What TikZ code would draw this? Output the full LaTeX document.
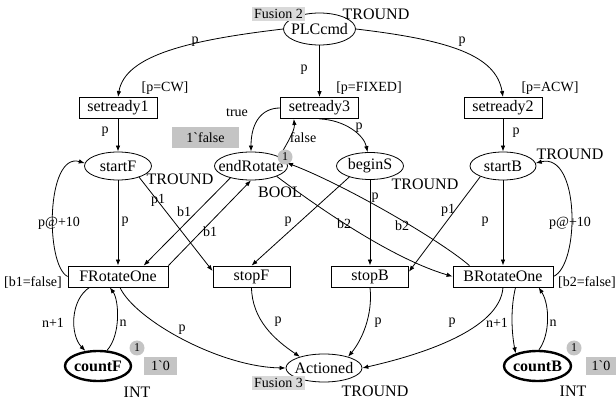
\documentclass[tikz,border=0pt]{standalone}
\usepackage{fontspec}
\setmainfont{Liberation Serif}
\usetikzlibrary{shapes.geometric,arrows.meta}
\definecolor{tokgray}{HTML}{C4C4C4}
\definecolor{fusgray}{HTML}{D9D9D9}
\newcommand{\zb}[1]{\makebox[0pt]{#1}}
\begin{document}
\begin{tikzpicture}[x=1pt,y=-1pt,
  place/.style={ellipse,draw,line width=0.8pt,inner sep=0pt,font=\fontsize{16}{18}\selectfont},
  trans/.style={rectangle,draw,line width=0.8pt,inner sep=0pt,minimum height=21pt,font=\fontsize{16}{18}\selectfont},
  lbl/.style={inner sep=0pt,font=\fontsize{14}{16}\selectfont},
  typ/.style={inner sep=0pt,font=\fontsize{16}{18}\selectfont},
  arc/.style={draw,line width=0.8pt,-{Latex[length=6pt,width=4.5pt]}},
  tok/.style={circle,fill=tokgray,inner sep=0pt,minimum size=15pt,font=\fontsize{12}{14}\selectfont},
  fusbox/.style={rectangle,fill=fusgray,inner sep=0pt,minimum width=53pt,minimum height=14pt,font=\fontsize{14}{16}\selectfont},
  initbox/.style={rectangle,fill=tokgray,inner sep=0pt,font=\fontsize{14}{16}\selectfont}]
\useasboundingbox (0,0) rectangle (616,403);
% places and transitions
\node[place,minimum width=72pt,minimum height=32pt] (PLC) at (319.5,29) {\zb{PLCcmd}};
\node[trans,minimum width=78pt] (sr1) at (118,108) {setready1};
\node[trans,minimum width=78pt] (sr3) at (319.5,108) {setready3};
\node[trans,minimum width=78pt] (sr2) at (503,108) {setready2};
\node[place,minimum width=67pt,minimum height=28pt] (startF) at (118,166) {\zb{startF}};
\node[place,minimum width=73pt,minimum height=28pt] (endR) at (251,166) {\zb{endRotate}};
\node[place,minimum width=67pt,minimum height=27pt] (beginS) at (370,166) {\zb{beginS}};
\node[place,minimum width=66pt,minimum height=28pt] (startB) at (503,166) {\zb{startB}};
\node[trans,minimum width=100pt] (FR) at (118,276.5) {FRotateOne};
\node[trans,minimum width=77pt] (stopF) at (251.5,276.5) {stopF};
\node[trans,minimum width=77pt] (stopB) at (370,276.5) {stopB};
\node[trans,minimum width=100pt] (BR) at (503,276.5) {BRotateOne};
\node[place,line width=2.4pt,minimum width=66pt,minimum height=30pt] (countF) at (98,366) {\zb{\bfseries countF}};
\node[place,line width=2.4pt,minimum width=67pt,minimum height=30pt] (countB) at (537.5,366) {\zb{\bfseries countB}};
\node[place,minimum width=76pt,minimum height=28pt] (Act) at (324,368) {\zb{Actioned}};
% arcs
\draw[arc] (PLC.west) .. controls (190,40) and (125,55) .. (sr1.north);
\draw[arc] (PLC.south) -- (sr3.north);
\draw[arc] (PLC.east) .. controls (449,40) and (496,55) .. (sr2.north);
\draw[arc] (sr1.south) -- (startF.north);
\draw[arc] (sr2.south) -- (startB.north);
\draw[arc] (sr3.west) .. controls (262,108) and (251,122) .. (endR.north);
\draw[arc] (endR.18) .. controls (288,142) and (295,130) .. (sr3.-157);
\draw[arc] (sr3.south) .. controls (345,120) and (364,135) .. (beginS.100);
\draw[arc] (startF.south) -- (FR.north);
\draw[arc] (startB.south) -- (BR.north);
\draw[arc] (beginS.south) -- (stopB.north);
\draw[arc] (startF.-28) -- (stopF.172);
\draw[arc] (endR.-150) -- (FR.23);
\draw[arc] (FR.north east) -- (endR.south);
\draw[arc] (beginS.-152) -- (stopF.north);
\draw[arc] (startB.-155) -- (stopB.7);
\draw[arc] (endR.-22) .. controls (315,205) and (390,258) .. (BR.west);
\draw[arc] (BR.162) .. controls (440,240) and (345,185) .. (endR.5);
\draw[arc] (FR.west) .. controls (45,265) and (46,152) .. (startF.175);
\draw[arc] (BR.east) .. controls (580,265) and (580,152) .. (startB.5);
\draw[arc] (FR.-159) .. controls (70,300) and (70,335) .. (countF.130);
\draw[arc] (countF.60) .. controls (121,335) and (119,300) .. (FR.-127);
\draw[arc] (FR.-80) .. controls (135,320) and (220,367) .. (Act.west);
\draw[arc] (stopF.south) .. controls (252,320) and (275,340) .. (Act.155);
\draw[arc] (stopB.south) .. controls (373,315) and (362,340) .. (Act.25);
\draw[arc] (BR.south) .. controls (500,330) and (420,355) .. (Act.east);
\draw[arc] (BR.-41) .. controls (510,310) and (512,335) .. (countB.150);
\draw[arc] (countB.85) .. controls (550,335) and (550,305) .. (BR.-17);
% fusion tags, markings, tokens
\node[fusbox] (fus2) at (278.5,14) {Fusion 2};
\node[fusbox] (fus3) at (278.5,383) {Fusion 3};
\node[initbox,minimum width=67pt,minimum height=21pt] (ini1) at (205.5,137.5) {1\textasciigrave false};
\node[initbox,minimum width=33pt,minimum height=18pt] (ini2) at (160.5,366) {1\textasciigrave 0};
\node[initbox,minimum width=31pt,minimum height=18pt] (ini3) at (601,366) {1\textasciigrave 0};
\node[tok] (tk1) at (285,157) {1};
\node[tok] (tk2) at (137,348) {1};
\node[tok] (tk3) at (574,348) {1};
% colour set labels
\node[typ] (t1) at (376,14) {TROUND};
\node[typ] (t2) at (180,179) {TROUND};
\node[typ] (t3) at (280,192) {BOOL};
\node[typ] (t4) at (425,184) {TROUND};
\node[typ] (t5) at (570,154) {TROUND};
\node[typ] (t6) at (375,391) {TROUND};
\node[typ] (t7) at (137,392) {INT};
\node[typ] (t8) at (573,391) {INT};
% guards
\node[lbl] (g1) at (165,88) {[p=CW]};
\node[lbl] (g2) at (369,88) {[p=FIXED]};
\node[lbl] (g3) at (550,88) {[p=ACW]};
\node[lbl] (g4) at (33,283) {[b1=false]};
\node[lbl] (g5) at (587,283) {[b2=false]};
% arc inscriptions
\node[lbl] (a1) at (195,42) {p};
\node[lbl] (a2) at (304,70) {p};
\node[lbl] (a3) at (462,42) {p};
\node[lbl] (a4) at (105,132) {p};
\node[lbl] (a5) at (516,133) {p};
\node[lbl] (a6) at (237,113) {true};
\node[lbl] (a7) at (303,138) {false};
\node[lbl] (a8) at (359,128) {p};
\node[lbl] (a9) at (125,222) {p};
\node[lbl] (a10) at (158,200) {p1};
\node[lbl] (a11) at (184,212) {b1};
\node[lbl] (a12) at (210,232) {b1};
\node[lbl] (a13) at (288,222) {p};
\node[lbl] (a14) at (344,224) {b2};
\node[lbl] (a15) at (402,226) {b2};
\node[lbl] (a16) at (375,198) {p};
\node[lbl] (a17) at (448,210) {p1};
\node[lbl] (a18) at (485,222) {p};
\node[lbl] (a19) at (59,223) {p@+10};
\node[lbl] (a20) at (570,223) {p@+10};
\node[lbl] (a21) at (53,323) {n+1};
\node[lbl] (a22) at (123,323) {n};
\node[lbl] (a23) at (182,330) {p};
\node[lbl] (a24) at (278,322) {p};
\node[lbl] (a25) at (378,323) {p};
\node[lbl] (a26) at (452,323) {p};
\node[lbl] (a27) at (497,323) {n+1};
\node[lbl] (a28) at (553,323) {n};
\end{tikzpicture}
\end{document}
